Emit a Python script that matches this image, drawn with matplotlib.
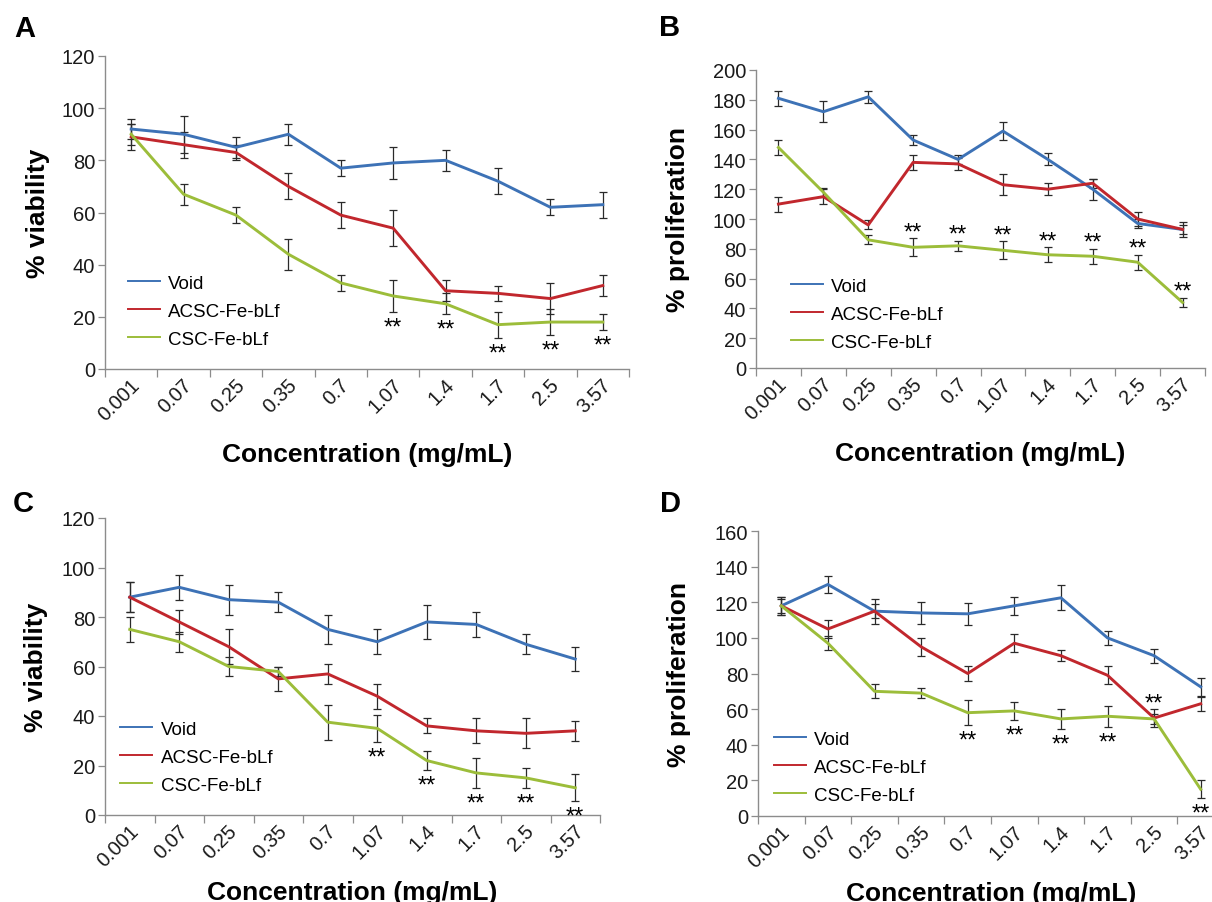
import numpy as np
import matplotlib
matplotlib.use("Agg")
import matplotlib.pyplot as plt
from matplotlib.lines import Line2D
from matplotlib.transforms import ScaledTranslation

plt.rcParams['font.family'] = ['Liberation Sans', 'DejaVu Sans']

concentrations = ["0.001", "0.07", "0.25", "0.35", "0.7", "1.07", "1.4", "1.7", "2.5", "3.57"]
series_names = ["Void", "ACSC-Fe-bLf", "CSC-Fe-bLf"]

# Panel A (% viability)
A_void = [92, 90, 85, 90, 77, 79, 80, 72, 62, 63]
A_void_err = [4, 7, 4, 4, 3, 6, 4, 5, 3, 5]
A_acsc = [89, 86, 83, 70, 59, 54, 30, 29, 27, 32]
A_acsc_err = [5, 5, 3, 5, 5, 7, 4, 3, 6, 4]
A_csc = [90, 67, 59, 44, 33, 28, 25, 17, 18, 18]
A_csc_err = [4, 4, 3, 6, 3, 6, 4, 5, 5, 3]
A_stars = [(5, "below", 2), (6, "below", 2), (7, "below", 2), (8, "below", 2), (9, "below", 2)]

# Panel B (% proliferation)
B_void = [181, 172, 182, 153, 140, 159, 140, 120, 97, 93]
B_void_err = [5, 7, 4, 3.5, 3, 6, 4, 7, 3, 3]
B_acsc = [110, 115, 96, 138, 137, 123, 120, 124, 100, 93]
B_acsc_err = [5, 5, 3, 5, 4, 7, 4, 3, 5, 5]
B_csc = [148, 118, 86, 81, 82, 79, 76, 75, 71, 44]
B_csc_err = [5, 3, 3, 6, 3.5, 6, 5, 5, 5, 3]
B_stars = [(3, "above", 2), (4, "above", 2), (5, "above", 2), (6, "above", 2),
           (7, "above", 2), (8, "above", 2), (9, "above", 2)]

# Panel C (% viability)
C_void = [88, 92, 87, 86, 75, 70, 78, 77, 69, 63]
C_void_err = [6, 5, 6, 4, 6, 5, 7, 5, 4, 5]
C_acsc = [88, 78, 68, 55, 57, 48, 36, 34, 33, 34]
C_acsc_err = [6, 5, 7, 5, 4, 5, 3, 5, 6, 4]
C_csc = [75, 70, 60, 58, 37.5, 35, 22, 17, 15, 11]
C_csc_err = [5, 4, 4, 2, 7, 5.5, 4, 6, 4, 5.5]
C_stars = [(5, "below", 2), (6, "below", 2), (7, "below", 2), (8, "below", 2), (9, "below", 2)]

# Panel D (% proliferation)
D_void = [118, 130, 115, 114, 113.5, 118, 122.5, 100, 90, 72.5]
D_void_err = [5, 5, 7, 6, 6, 5, 7, 4, 4, 5]
D_acsc = [118, 105, 115, 95, 80, 97, 90, 79, 55, 63]
D_acsc_err = [5, 5, 4, 5, 4, 5, 3, 5, 5, 4]
D_csc = [118, 97, 70, 69, 58, 59, 54.5, 56, 54.5, 15]
D_csc_err = [4, 4, 4, 3, 7, 5, 5.5, 6, 3, 5]
D_stars = [(4, "below", 2), (5, "below", 2), (6, "below", 2), (7, "below", 2),
           (8, "above", 1), (9, "below", 2)]

colors = ["#3D72B6", "#C1272D", "#9CBD3A"]

W, H = 1212, 903
fig = plt.figure(figsize=(W / 100, H / 100), dpi=100)


def make_axes(left, right, bottom, top):
    return fig.add_axes([left / W, 1 - bottom / H, (right - left) / W, (bottom - top) / H])


panels = [
    dict(box=(105, 629, 370, 57), ylim=(0, 120), yticks=np.arange(0, 121, 20),
         ylabel="% viability", letter="A", letter_pos=(25, 29),
         data=[(A_void, A_void_err), (A_acsc, A_acsc_err), (A_csc, A_csc_err)], stars=A_stars,
         leg=(0.044, 0.185), ylab_x=-0.105, xlab_y=-0.233),
    dict(box=(756, 1205, 369, 71), ylim=(0, 200), yticks=np.arange(0, 201, 20),
         ylabel="% proliferation", letter="B", letter_pos=(670, 28),
         data=[(B_void, B_void_err), (B_acsc, B_acsc_err), (B_csc, B_csc_err)], stars=B_stars,
         leg=(0.078, 0.181), ylab_x=-0.146, xlab_y=-0.245),
    dict(box=(105, 600, 816, 519), ylim=(0, 120), yticks=np.arange(0, 121, 20),
         ylabel="% viability", letter="C", letter_pos=(23, 504),
         data=[(C_void, C_void_err), (C_acsc, C_acsc_err), (C_csc, C_csc_err)], stars=C_stars,
         leg=(0.031, 0.195), ylab_x=-0.115, xlab_y=-0.219),
    dict(box=(758, 1224, 817, 532), ylim=(0, 160), yticks=np.arange(0, 161, 20),
         ylabel="% proliferation", letter="D", letter_pos=(670, 504),
         data=[(D_void, D_void_err), (D_acsc, D_acsc_err), (D_csc, D_csc_err)], stars=D_stars,
         leg=(0.034, 0.172), ylab_x=-0.144, xlab_y=-0.227),
]

x = np.arange(len(concentrations))
spine_col = "#8c8c8c"

for p in panels:
    ax = make_axes(*p["box"])
    for (vals, errs), c in zip(p["data"], colors):
        ax.errorbar(x, vals, yerr=errs, color=c, lw=2.1, ecolor="#2a2a2a",
                    elinewidth=0.9, capsize=2.7, capthick=0.9, zorder=3)
    ax.set_xlim(-0.5, 9.5)
    ax.set_ylim(*p["ylim"])
    ax.set_yticks(p["yticks"])
    ax.tick_params(axis="y", labelsize=14.5, length=5, width=0.9, color=spine_col,
                   pad=2, labelcolor="#1a1a1a")
    ax.set_xticks(np.arange(-0.5, 10.0, 1.0))
    ax.set_xticklabels([])
    ax.tick_params(axis="x", which="major", length=6, width=0.9, color=spine_col)
    ax.set_xticks(x, minor=True)
    ax.set_xticklabels(concentrations, minor=True, rotation=45, ha="right", va="center",
                       rotation_mode="anchor", fontsize=14.5, color="#1a1a1a")
    ax.tick_params(axis="x", which="minor", length=0, pad=9)
    off = ScaledTranslation(4 / 72, 0, fig.dpi_scale_trans)
    for lab in ax.get_xticklabels(minor=True):
        lab.set_transform(lab.get_transform() + off)
    for s in ["top", "right"]:
        ax.spines[s].set_visible(False)
    for s in ["left", "bottom"]:
        ax.spines[s].set_color(spine_col)
        ax.spines[s].set_linewidth(1.0)
    ax.set_ylabel(p["ylabel"], fontsize=19, fontweight="bold")
    ax.yaxis.set_label_coords(p["ylab_x"], 0.5)
    ax.set_xlabel("Concentration (mg/mL)", fontsize=19, fontweight="bold")
    ax.xaxis.set_label_coords(0.5, p["xlab_y"])
    # significance stars
    for idx, side, si in p["stars"]:
        vals, errs = p["data"][si]
        if side == "below":
            ax.annotate("**", (idx, vals[idx] - errs[idx]), xytext=(0, -15.5),
                        textcoords="offset points", ha="center", va="baseline",
                        fontsize=17, zorder=5)
        else:
            ax.annotate("**", (idx, vals[idx] + errs[idx]), xytext=(0, 0),
                        textcoords="offset points", ha="center", va="baseline",
                        fontsize=17, zorder=5)
    handles = [Line2D([], [], color=c, lw=1.4) for c in colors]
    ax.legend(handles, series_names, loc="center left", bbox_to_anchor=p["leg"],
              frameon=False, fontsize=13.5, handlelength=1.7, handletextpad=0.45,
              labelspacing=0.58, borderpad=0, borderaxespad=0)
    fig.text(p["letter_pos"][0] / W, 1 - p["letter_pos"][1] / H, p["letter"],
             fontsize=21, fontweight="bold", ha="center", va="center")

fig.savefig("out.png", dpi=100)
